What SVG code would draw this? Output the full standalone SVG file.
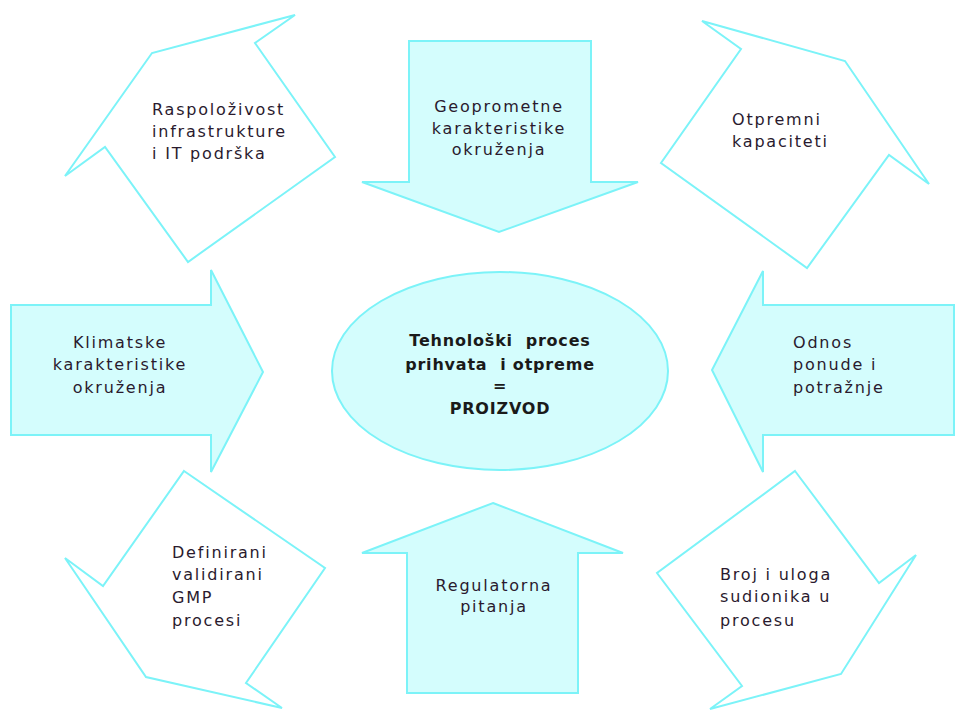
<svg xmlns="http://www.w3.org/2000/svg" width="955" height="711" viewBox="0 0 955 711">
<style>
.fill{fill:#d4fdfd;stroke:#7cf3f8;stroke-width:2;stroke-linejoin:miter}
.open{fill:#ffffff;stroke:#7cf3f8;stroke-width:2;stroke-linejoin:miter}
.t{font-family:"DejaVu Sans",Verdana,sans-serif;font-size:16px;letter-spacing:1.8px;fill:#2a1a2e}
.c{text-anchor:middle}
.b{font-family:"DejaVu Sans",Verdana,sans-serif;font-size:16px;font-weight:bold;letter-spacing:0.8px;fill:#1a1a1a;text-anchor:middle;white-space:pre}
</style>
<rect width="955" height="711" fill="#ffffff"/>
<g id="connectors"></g>
<g id="n-raspolozivost">
<polygon class="open" points="295,15 255,43 335,157 188,262 105,147 65,176 152,53"/>
<text class="t" x="152" y="115">Raspoloživost</text>
<text class="t" x="152" y="137">infrastrukture</text>
<text class="t" x="152" y="159">i IT podrška</text>
</g>
<g id="n-geoprometne">
<polygon class="fill" points="409,41 591,41 591,182 638,182 499,232 362,182 409,182"/>
<text class="t c" x="499" y="112">Geoprometne</text>
<text class="t c" x="499" y="134">karakteristike</text>
<text class="t c" x="499" y="155">okruženja</text>
</g>
<g id="n-otpremni">
<polygon class="open" points="702,21 845,61 929,184 889,155 807,268 661,163 741,49"/>
<text class="t" x="732" y="125">Otpremni</text>
<text class="t" x="732" y="147">kapaciteti</text>
</g>
<g id="n-klimatske">
<polygon class="fill" points="11,305 211,305 211,270 263,372 211,472 211,435 11,435"/>
<text class="t c" x="120" y="348">Klimatske</text>
<text class="t c" x="120" y="370">karakteristike</text>
<text class="t c" x="120" y="393">okruženja</text>
</g>
<g id="n-centar">
<ellipse class="fill" cx="500" cy="371" rx="168" ry="99"/>
<text class="b" x="500" y="346">Tehnološki  proces</text>
<text class="b" x="500" y="370">prihvata  i otpreme</text>
<text class="b" x="500" y="391">=</text>
<text class="b" x="500" y="414">PROIZVOD</text>
</g>
<g id="n-odnos">
<polygon class="fill" points="954,305 763,305 763,271 712,370 763,472 763,435 954,435"/>
<text class="t" x="793" y="348">Odnos</text>
<text class="t" x="793" y="370">ponude i</text>
<text class="t" x="793" y="393">potražnje</text>
</g>
<g id="n-definirani">
<polygon class="open" points="184,471 325,568 246,683 282,708 146,677 65,558 103,586"/>
<text class="t" x="172" y="558">Definirani</text>
<text class="t" x="172" y="580">validirani</text>
<text class="t" x="172" y="603">GMP</text>
<text class="t" x="172" y="626">procesi</text>
</g>
<g id="n-regulatorna">
<polygon class="fill" points="493,503 623,553 578,553 578,693 407,693 407,553 362,553"/>
<text class="t c" x="494" y="591">Regulatorna</text>
<text class="t c" x="494" y="612">pitanja</text>
</g>
<g id="n-broj">
<polygon class="open" points="795,471 879,583 916,555 841,674 710,709 742,686 657,573"/>
<text class="t" x="720" y="580">Broj i uloga</text>
<text class="t" x="720" y="602">sudionika u</text>
<text class="t" x="720" y="626">procesu</text>
</g>
</svg>
